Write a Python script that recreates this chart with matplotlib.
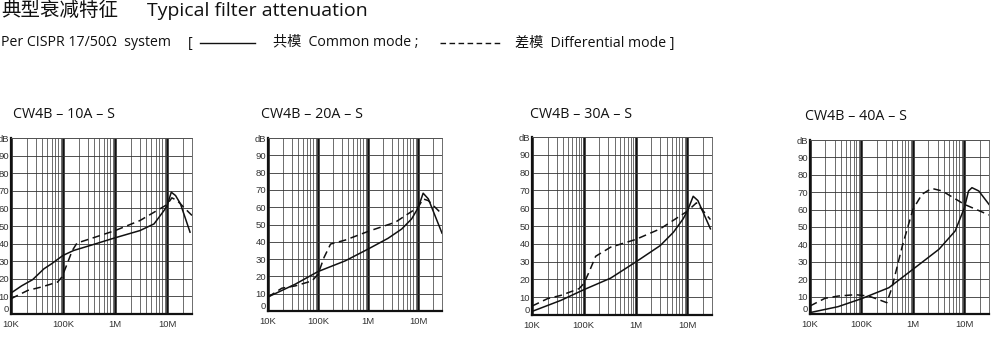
import matplotlib
matplotlib.use('Agg')
import matplotlib.pyplot as plt
from matplotlib.lines import Line2D

plt.rcParams['font.family'] = ['Open Sans', 'Noto Sans CJK SC', 'DejaVu Sans']

# frequency (Hz) / attenuation (dB) per model: common mode (solid) and differential mode (dashed)
MODELS = ['CW4B – 10A – S', 'CW4B – 20A – S', 'CW4B – 30A – S', 'CW4B – 40A – S']

cm10_f = [1e4, 1.6e4, 2.6e4, 4.3e4, 6e4, 1e5, 1.6e5, 3.3e5, 1e6, 3e6, 5.6e6, 8.7e6, 1e7, 1.2e7, 1.45e7, 1.8e7, 2.75e7]
cm10_db = [11.9, 16.0, 19.5, 25.7, 28.5, 33.3, 36.1, 38.9, 43.3, 47.4, 51.2, 58.8, 61.6, 69.2, 67.3, 62.6, 46.5]
dm10_f = [1e4, 2.1e4, 3.8e4, 7.8e4, 9.5e4, 1.2e5, 1.5e5, 1.85e5, 3.3e5, 1e6, 3e6, 1e7, 1.23e7, 1.55e7, 2.6e7, 3e7]
dm10_db = [8.7, 13.4, 15.3, 18.1, 21.0, 28.5, 36.0, 40.3, 42.7, 47.4, 53.1, 62.2, 66.0, 64.5, 57.8, 56.0]

cm20_f = [1e4, 3.5e4, 1e5, 3.5e5, 1e6, 2.5e6, 4.7e6, 7.4e6, 1e7, 1.26e7, 1.6e7, 3e7]
cm20_db = [8.1, 15.5, 22.8, 29.0, 35.8, 42.0, 47.4, 53.2, 59.6, 68.1, 64.8, 45.0]
dm20_f = [1e4, 1.9e4, 3.5e4, 7.6e4, 1e5, 1.32e5, 1.78e5, 3.5e5, 1e6, 3.5e6, 1e7, 1.26e7, 1.6e7, 3e7]
dm20_db = [8.1, 13.2, 14.5, 17.4, 21.3, 31.0, 38.7, 41.0, 46.0, 51.3, 60.0, 64.8, 63.8, 56.0]

cm30_f = [1e4, 3.6e4, 1e5, 3.3e5, 1e6, 3e6, 5.4e6, 8.3e6, 1e7, 1.3e7, 1.6e7, 2.8e7]
cm30_db = [2.0, 8.2, 14.2, 20.7, 29.7, 39.0, 46.5, 54.0, 58.3, 66.7, 64.3, 48.4]
dm30_f = [1e4, 2e4, 3.6e4, 8.1e4, 1e5, 1.26e5, 1.7e5, 3.3e5, 1e6, 3e6, 1e7, 1.5e7, 2.8e7]
dm30_db = [5.0, 9.2, 11.0, 14.8, 17.6, 24.0, 33.0, 38.1, 42.4, 48.4, 58.3, 63.0, 53.6]

cm40_f = [1e4, 3.5e4, 1e5, 3.4e5, 1e6, 3.2e6, 6.6e6, 1e7, 1.2e7, 1.4e7, 1.9e7, 3e7]
cm40_db = [0.8, 4.2, 8.8, 15.1, 25.7, 37.2, 47.7, 61.1, 70.7, 72.6, 70.7, 63.0]
dm40_f = [1e4, 1.95e4, 3.5e4, 7.6e4, 1.38e5, 2.1e5, 3.1e5, 3.9e5, 6.2e5, 1e6, 1.5e6, 2.3e6, 3.7e6, 1e7, 3e7]
dm40_db = [4.6, 9.0, 10.3, 11.1, 10.3, 8.4, 6.5, 15.1, 39.0, 60.2, 68.8, 72.2, 70.7, 63.0, 56.9]

series = [
    (cm10_f, cm10_db, dm10_f, dm10_db),
    (cm20_f, cm20_db, dm20_f, dm20_db),
    (cm30_f, cm30_db, dm30_f, dm30_db),
    (cm40_f, cm40_db, dm40_f, dm40_db),
]

X_TICKS = [1e4, 1e5, 1e6, 1e7]
X_LABELS = ['10K', '100K', '1M', '10M']
Y_TICKS = list(range(0, 101, 10))
Y_LABELS = [str(v) for v in range(0, 100, 10)] + ['dB']

W, H = 1000, 347
# panel boxes in pixels: left, right, top, bottom
BOXES = [(11, 192, 138, 314), (268, 442, 138, 311), (532, 712, 137, 315), (810, 989, 140, 314)]
TITLE_POS = [(13, 114), (261, 115), (530, 115), (805, 117)]

fig = plt.figure(figsize=(W / 100, H / 100), dpi=100)
fig.patch.set_facecolor('white')

# header
fig.text(1 / W, 1 - 11 / H, '典型衰减特征', fontsize=14, va='center', ha='left', color='#111')
fig.text(147 / W, 1 - 11 / H, 'Typical filter attenuation', fontsize=14, va='center', ha='left', color='#111')

y2 = 1 - 43 / H
fs2 = 10.2
fig.text(1 / W, y2, 'Per CISPR 17/50Ω  system', fontsize=fs2, va='center', ha='left', color='#111')
fig.text(188 / W, y2, '[', fontsize=fs2, va='center', ha='left', color='#111')
fig.add_artist(Line2D([200 / W, 255 / W], [y2, y2], color='#111', lw=1.0))
fig.text(273 / W, y2, '共模  Common mode ;', fontsize=fs2, va='center', ha='left', color='#111')
fig.add_artist(Line2D([440 / W, 500 / W], [y2, y2], color='#111', lw=1.0, dashes=(4, 2.5)))
fig.text(515 / W, y2, '差模  Differential mode ]', fontsize=fs2, va='center', ha='left', color='#111')

for i, (l, r, t, b) in enumerate(BOXES):
    ax = fig.add_axes([l / W, 1 - b / H, (r - l) / W, (b - t) / H])
    ax.set_xscale('log')
    ax.set_xlim(1e4, 3e7)
    ax.set_ylim(0, 100)

    # decade and minor grid
    for dec in [1e4, 1e5, 1e6, 1e7]:
        for k in range(1, 10):
            f = dec * k
            if f > 3e7:
                break
            if k == 1:
                ax.axvline(f, color='#111', lw=1.8, zorder=1)
            else:
                ax.axvline(f, color='#555', lw=0.6, zorder=1)
    for v in range(10, 101, 10):
        ax.axhline(v, color='#333', lw=0.6, zorder=1)

    cf, cd, df, dd = series[i]
    ax.plot(cf, cd, color='#111', lw=1.1, zorder=3)
    ax.plot(df, dd, color='#111', lw=1.1, dashes=(5, 3), zorder=3)

    ax.set_xticks(X_TICKS)
    ax.set_xticklabels(X_LABELS)
    ax.set_xticks([], minor=True)
    ax.set_yticks(Y_TICKS)
    ax.set_yticklabels(Y_LABELS)
    ax.tick_params(length=0, labelsize=6.8, labelcolor='#333')
    ax.tick_params(axis='y', pad=1.5)
    ax.tick_params(axis='x', pad=4)
    for lab in ax.get_xticklabels() + ax.get_yticklabels():
        lab.set_family(['Liberation Sans', 'DejaVu Sans'])
    # keep the zero label clear of the frequency labels below it
    ax.get_yticklabels()[0].set_va('bottom')

    for side in ['left', 'bottom']:
        ax.spines[side].set_linewidth(1.6)
        ax.spines[side].set_color('#111')
    for side in ['right', 'top']:
        ax.spines[side].set_linewidth(0.6)
        ax.spines[side].set_color('#555')

    tx, ty = TITLE_POS[i]
    fig.text(tx / W, 1 - ty / H, MODELS[i], fontsize=10.3, va='center', ha='left', color='#111')

fig.savefig('out.png', dpi=100, facecolor='white')
